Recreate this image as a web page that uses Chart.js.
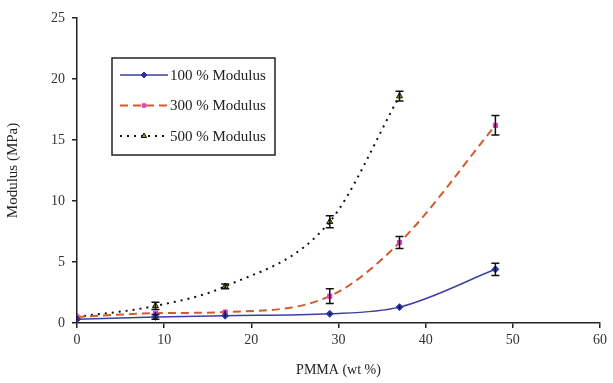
<!DOCTYPE html>
<html>
<head>
<meta charset="utf-8">
<script src="https://cdn.jsdelivr.net/npm/chart.js@4"></script>
<style>
  html, body { margin: 0; padding: 0; background: #fff; }
  #wrap { width: 613px; height: 383px; position: relative; }
</style>
</head>
<body>
<div id="wrap"><canvas id="graficaModulo"></canvas></div>
<script>
// datos
const pmma = [0, 9, 17, 29, 37, 48];
const pmma500 = [0, 9, 17, 29, 37];
const modulo100 = [0.3, 0.5, 0.6, 0.75, 1.3, 4.4];
const modulo300 = [0.5, 0.8, 0.9, 2.2, 6.6, 16.2];
const modulo500 = [0.5, 1.4, 3.0, 8.3, 18.6];
const error100 = [0.05, 0.2, 0.1, 0.1, 0.15, 0.5];
const error300 = [0.05, 0.1, 0.1, 0.6, 0.5, 0.8];
const error500 = [0.05, 0.3, 0.2, 0.5, 0.4];
const nombres = ['100 % Modulus', '300 % Modulus', '500 % Modulus'];
const ticksX = [0, 10, 20, 30, 40, 50, 60];
const ticksY = [0, 5, 10, 15, 20, 25];

const puntos = (xs, ys) => xs.map((x, i) => ({ x: x, y: ys[i] }));
const serif = "'Liberation Serif', 'DejaVu Serif', serif";

(function() {
    const renderChart = () => {
        const ctx = document.getElementById('graficaModulo');

        // barras de error con las escalas del gráfico
        const barrasError = {
            id: 'barrasError',
            afterDatasetsDraw(chart) {
                const c = chart.ctx;
                const sx = chart.scales.x, sy = chart.scales.y;
                c.save();
                c.strokeStyle = '#111';
                c.lineWidth = 1.5;
                chart.data.datasets.forEach((ds, d) => {
                    ds.data.forEach((p, i) => {
                        const e = ds.errores[i];
                        if (!e) return;
                        const px = sx.getPixelForValue(p.x);
                        const y1 = sy.getPixelForValue(p.y - e);
                        const y2 = sy.getPixelForValue(p.y + e);
                        c.beginPath();
                        c.moveTo(px, y1); c.lineTo(px, y2);
                        if (y1 - y2 > 4) {
                            c.moveTo(px - 4, y1); c.lineTo(px + 4, y1);
                            c.moveTo(px - 4, y2); c.lineTo(px + 4, y2);
                        }
                        c.stroke();
                    });
                });
                c.restore();
            }
        };

        // leyenda dentro del área, como en la figura
        const leyenda = {
            id: 'leyenda',
            afterDraw(chart) {
                const c = chart.ctx;
                const x0 = 112, y0 = 58, w = 163, h = 97;
                c.save();
                c.fillStyle = '#fff';
                c.fillRect(x0, y0, w, h);
                c.strokeStyle = '#222';
                c.lineWidth = 1.5;
                c.strokeRect(x0, y0, w, h);
                chart.data.datasets.forEach((ds, i) => {
                    const yy = y0 + 17 + i * 30.5;
                    c.beginPath();
                    c.strokeStyle = ds.borderColor;
                    c.lineWidth = ds.borderWidth;
                    c.setLineDash(ds.borderDash || []);
                    c.moveTo(x0 + 8, yy); c.lineTo(x0 + 56, yy);
                    c.stroke();
                    c.setLineDash([]);
                    c.fillStyle = ds.backgroundColor;
                    c.strokeStyle = ds.pointBorderColor;
                    c.lineWidth = 1;
                    Chart.helpers.drawPoint(c, {
                        pointStyle: ds.pointStyle, radius: ds.pointRadius - 0.5,
                        borderWidth: 1
                    }, x0 + 32, yy);
                    c.fillStyle = '#222';
                    c.font = '15px ' + serif;
                    c.textBaseline = 'middle';
                    c.fillText(ds.label, x0 + 58, yy + 1);
                });
                c.restore();
            }
        };

        const base = {
            fill: false,
            pointBorderWidth: 1,
            cubicInterpolationMode: 'monotone'
        };

        new Chart(ctx, {
            type: 'line',
            data: {
                datasets: [
                    Object.assign({}, base, {
                        label: nombres[0],
                        data: puntos(pmma, modulo100),
                        errores: error100,
                        borderColor: '#3b3fa3',
                        backgroundColor: '#2e34a8',
                        pointBorderColor: '#2e34a8',
                        borderWidth: 1.5,
                        pointStyle: 'rectRot',
                        pointRadius: 3.5
                    }),
                    Object.assign({}, base, {
                        label: nombres[1],
                        data: puntos(pmma, modulo300),
                        errores: error300,
                        borderColor: '#d45a2c',
                        backgroundColor: '#e040c8',
                        pointBorderColor: '#e040c8',
                        borderWidth: 2,
                        borderDash: [8, 5],
                        pointStyle: 'rect',
                        pointRadius: 3
                    }),
                    Object.assign({}, base, {
                        label: nombres[2],
                        data: puntos(pmma500, modulo500),
                        errores: error500,
                        borderColor: '#111',
                        backgroundColor: '#9aa030',
                        pointBorderColor: '#111',
                        borderWidth: 2,
                        borderDash: [2, 5],
                        pointStyle: 'triangle',
                        pointRadius: 3.5
                    })
                ]
            },
            options: {
                responsive: true,
                maintainAspectRatio: false,
                animation: false,
                layout: { padding: { top: 18, right: 13, bottom: 0, left: 0 } },
                plugins: {
                    legend: { display: false },
                    tooltip: { enabled: false }
                },
                scales: {
                    x: {
                        type: 'linear',
                        min: 0, max: 60,
                        afterBuildTicks: (s) => { s.ticks = ticksX.map(v => ({ value: v })); },
                        afterFit: (s) => { s.height = 60; },
                        grid: { drawOnChartArea: false, tickLength: 5, color: '#222', lineWidth: 1.5 },
                        border: { color: '#222', width: 1.5 },
                        ticks: { color: '#333', font: { family: serif, size: 14 }, padding: 4, maxRotation: 0 },
                        title: {
                            display: true, text: 'PMMA (wt %)', color: '#222',
                            font: { family: serif, size: 14 }, padding: { top: 4 }
                        }
                    },
                    y: {
                        min: 0, max: 25,
                        afterBuildTicks: (s) => { s.ticks = ticksY.map(v => ({ value: v })); },
                        afterFit: (s) => { s.width = 77; },
                        grid: { drawOnChartArea: false, tickLength: 5, color: '#222', lineWidth: 1.5 },
                        border: { color: '#222', width: 1.5 },
                        ticks: { color: '#333', font: { family: serif, size: 14 }, padding: 7 },
                        title: {
                            display: true, text: 'Modulus (MPa)', color: '#222',
                            font: { family: serif, size: 15 }, padding: { bottom: 10 }
                        }
                    }
                }
            },
            plugins: [barrasError, leyenda]
        });
    };

    if (document.readyState === 'complete') {
        renderChart();
    } else {
        window.addEventListener('load', renderChart);
    }
})();
</script>
</body>
</html>
